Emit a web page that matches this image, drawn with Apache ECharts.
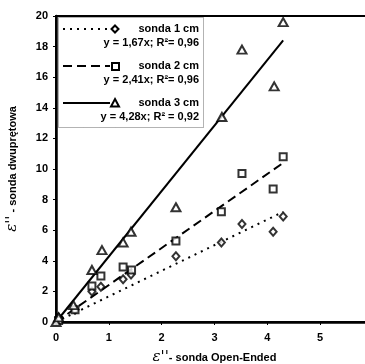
<!DOCTYPE html>
<html>
<head>
<meta charset="utf-8">
<script src="https://cdn.jsdelivr.net/npm/echarts@6/dist/echarts.min.js"></script>
<style>
  html, body { margin: 0; padding: 0; background: #fff; }
  #chart { width: 365px; height: 364px; }
</style>
</head>
<body>
<div id="chart"></div>
<script>
// punkty pomiarowe [open-ended, dwuprętowa]
const sonda1 = [[0.05, 0.3], [0.36, 0.8], [0.68, 2.0], [0.85, 2.3], [1.27, 2.8], [1.42, 3.1], [2.27, 4.3], [3.13, 5.2], [3.52, 6.4], [4.11, 5.9], [4.3, 6.9]];
const sonda2 = [[0.05, 0.1], [0.36, 0.8], [0.68, 2.35], [0.85, 3.0], [1.27, 3.6], [1.43, 3.4], [2.27, 5.3], [3.13, 7.2], [3.52, 9.7], [4.11, 8.7], [4.3, 10.8]];
const sonda3 = [[0.0, 0.0], [0.05, 0.3], [0.33, 1.1], [0.68, 3.4], [0.87, 4.7], [1.27, 5.2], [1.42, 5.9], [2.27, 7.5], [3.14, 13.4], [3.52, 17.8], [4.13, 15.4], [4.3, 19.6]];
// linie trendu
const fit1 = [[0, 0], [4.3, 7.2]];
const fit2 = [[0, 0], [4.3, 10.4]];
const fit3 = [[0, 0], [4.3, 18.4]];
const seriesNames = ['sonda 1 cm', 'sonda 2 cm', 'sonda 3 cm'];
const equations = ['y = 1,67x; R²= 0,96', 'y = 2,41x; R²= 0,96', 'y = 4,28x; R² = 0,92'];

const font = 'Liberation Sans, Arial, sans-serif';
const marker = {color: '#fff', borderColor: '#000', borderWidth: 2};

// legenda rysowana recznie
const legendRows = [29, 66, 103];
const legendDash = [[2, 5], [9, 5], null];
const legend = [{
  type: 'rect', left: 58, top: 17,
  shape: {width: 145, height: 110},
  style: {fill: '#fff', stroke: '#666', lineWidth: 1, lineDash: [1, 1]},
  z: 50
}];
legendRows.forEach((y, i) => {
  legend.push({
    type: 'line', z: 51,
    shape: {x1: 63, y1: y, x2: 110, y2: y},
    style: {stroke: '#000', lineWidth: 2, lineDash: legendDash[i]}
  });
  let sym;
  if (i === 0) {
    sym = {type: 'polygon', shape: {points: [[115, y - 3.5], [118.5, y], [115, y + 3.5], [111.5, y]]}};
  } else if (i === 1) {
    sym = {type: 'rect', shape: {x: 112, y: y - 3, width: 7, height: 7}};
  } else {
    sym = {type: 'polygon', shape: {points: [[115, y - 4], [119, y + 3.5], [111, y + 3.5]]}};
  }
  sym.z = 52;
  sym.style = {fill: '#fff', stroke: '#000', lineWidth: 2};
  legend.push(sym);
  legend.push({
    type: 'text', z: 52, x: 199, y: y,
    style: {text: seriesNames[i], font: 'bold 11px ' + font, fill: '#000', align: 'right', verticalAlign: 'middle'}
  });
  legend.push({
    type: 'text', z: 52, x: 199, y: y + 14,
    style: {text: equations[i], font: 'bold 11px ' + font, fill: '#000', align: 'right', verticalAlign: 'middle'}
  });
});

const axisLabel = {color: '#000', fontFamily: font, fontWeight: 'bold', fontSize: 11};
const nameRich = {
  e: {fontFamily: 'DejaVu Serif, serif', fontStyle: 'italic', fontSize: 15, color: '#000'},
  t: {fontFamily: font, fontWeight: 'bold', fontSize: 11, color: '#000'}
};

const chart = echarts.init(document.getElementById('chart'));
chart.setOption({
  backgroundColor: '#fff',
  animation: false,
  grid: {
    left: 56, right: -8, top: 16, bottom: 42,
    outerBoundsMode: 'none', containLabel: false,
    show: true, borderColor: '#000', borderWidth: 2
  },
  xAxis: {
    type: 'value', min: 0, max: 6, interval: 1,
    name: '{e|ε\'\'}{t|- sonda Open-Ended}',
    nameLocation: 'middle', nameGap: 28,
    nameTextStyle: {rich: nameRich},
    axisLine: {lineStyle: {color: '#000', width: 2.5}},
    axisTick: {show: true, length: 3, lineStyle: {color: '#000'}},
    axisLabel: Object.assign({margin: 10, formatter: v => (v > 5 ? '' : String(v))}, axisLabel),
    splitLine: {show: false}
  },
  yAxis: {
    type: 'value', min: 0, max: 20, interval: 2,
    name: '{e|ε\'\'}{t| - sonda dwuprętowa}',
    nameLocation: 'middle', nameGap: 36, nameRotate: 90,
    nameTextStyle: {rich: nameRich},
    axisLine: {lineStyle: {color: '#000', width: 2.5}},
    axisTick: {show: true, length: 3, lineStyle: {color: '#000'}},
    axisLabel: Object.assign({margin: 8}, axisLabel),
    splitLine: {show: false}
  },
  series: [
    {type: 'line', data: fit1, showSymbol: false, lineStyle: {color: '#000', width: 2, type: [2, 5]}, z: 2},
    {type: 'line', data: fit2, showSymbol: false, lineStyle: {color: '#000', width: 2, type: [9, 5]}, z: 2},
    {type: 'line', data: fit3, showSymbol: false, lineStyle: {color: '#000', width: 2}, z: 2},
    {type: 'scatter', name: seriesNames[0], data: sonda1, symbol: 'diamond', symbolSize: [7, 8], itemStyle: marker, z: 3},
    {type: 'scatter', name: seriesNames[1], data: sonda2, symbol: 'rect', symbolSize: 7, itemStyle: marker, z: 3},
    {type: 'scatter', name: seriesNames[2], data: sonda3, symbol: 'triangle', symbolSize: [9, 8], itemStyle: marker, z: 3}
  ],
  graphic: legend
});
</script>
</body>
</html>
